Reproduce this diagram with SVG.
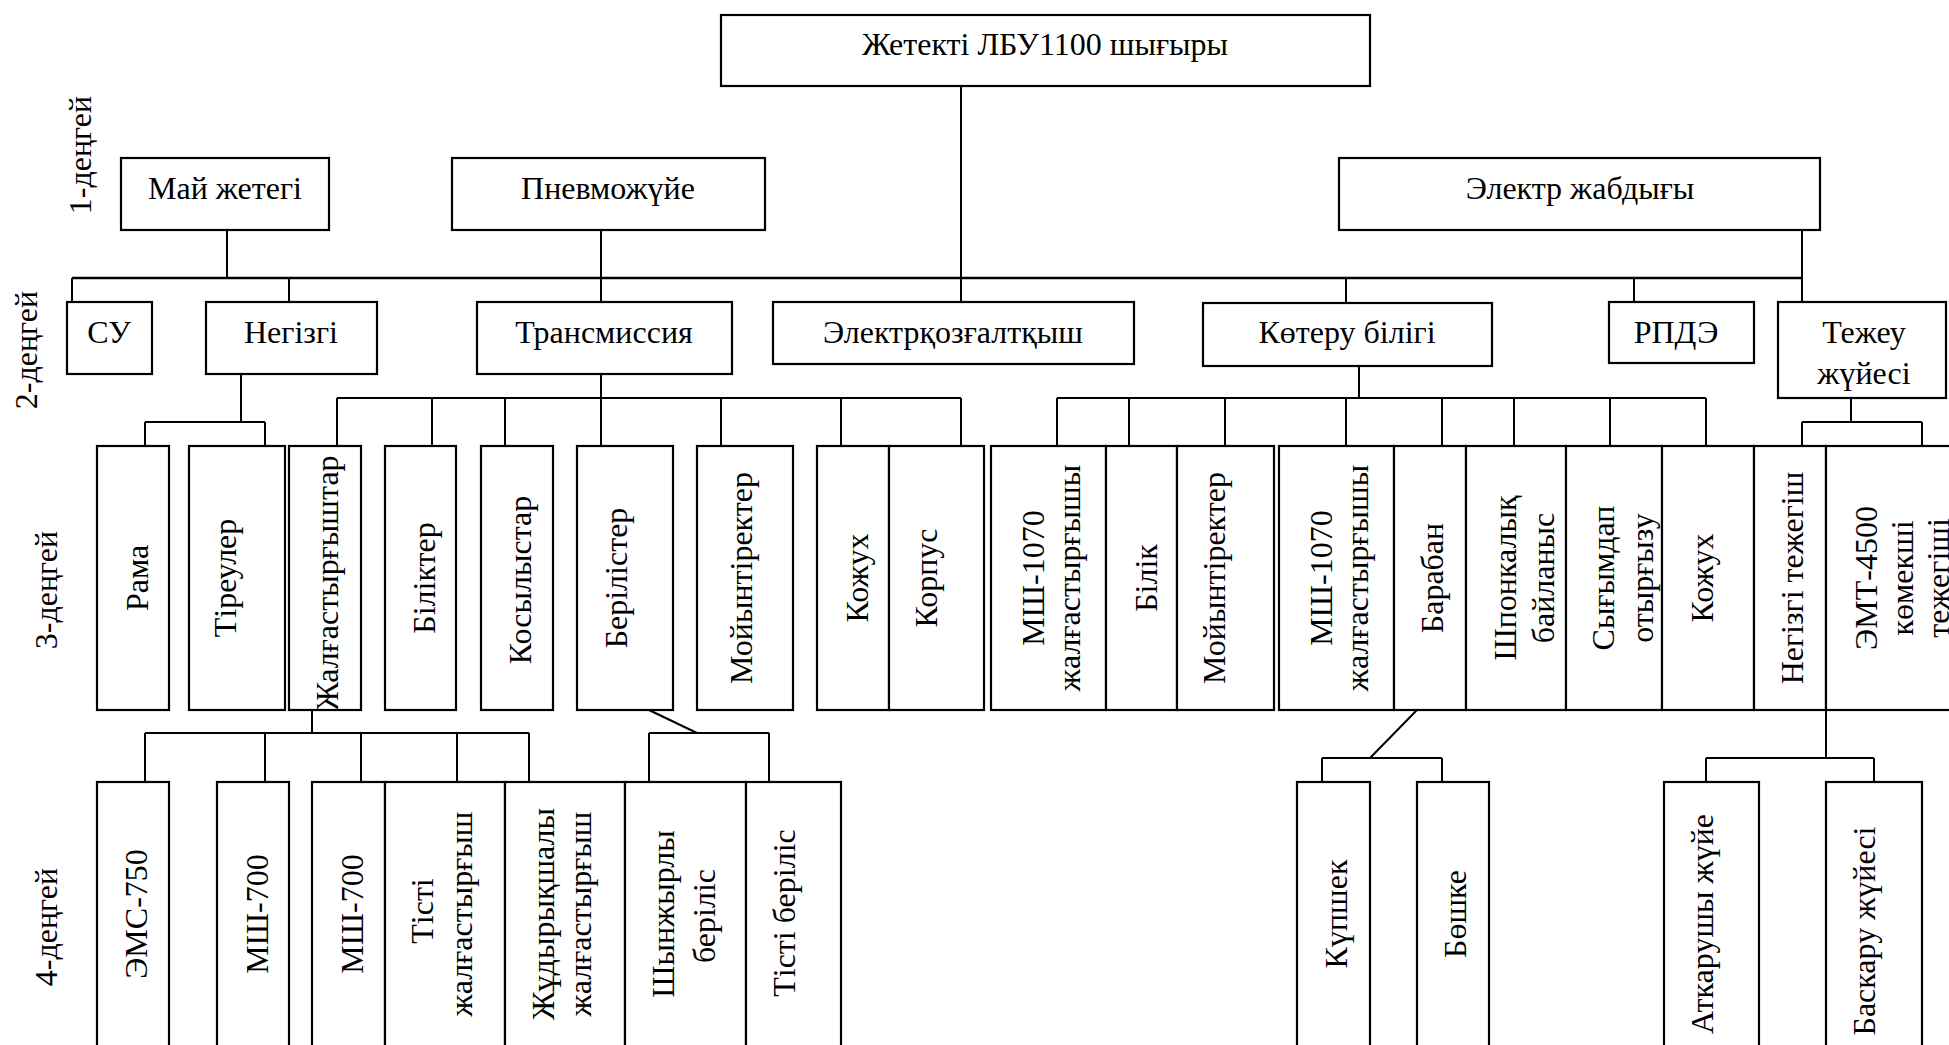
<svg xmlns="http://www.w3.org/2000/svg" width="1949" height="1045" viewBox="0 0 1949 1045">
  <style>
    .box{fill:#fff;stroke:#000;stroke-width:2.2}
    .ln{fill:none;stroke:#000;stroke-width:2}
    .bus{fill:none;stroke:#000;stroke-width:2.6}
    text{font-family:"Liberation Serif","Times New Roman",serif;font-size:32px;fill:#000;text-anchor:middle}
  </style>
  <rect width="1949" height="1045" fill="#fff"/>

  <!-- connectors -->
  <g id="connectors">
    <!-- root to level 1/2 bus -->
    <path class="ln" d="M961 86V302"/>
    <path class="bus" d="M72 278H1802"/>
    <path class="ln" d="M227 230V278M601 230V302M1802 230V302"/>
    <path class="ln" d="M72 278V302M289 278V302M1346 278V303M1634 278V302"/>
    <!-- Негізгі -->
    <path class="ln" d="M241 374V422M145 422H265M145 422V446M265 422V446"/>
    <!-- Трансмиссия -->
    <path class="ln" d="M601 374V398M337 398H961M337 398V446M432 398V446M505 398V446M601 398V446M721 398V446M841 398V446M961 398V446"/>
    <!-- Көтеру білігі -->
    <path class="ln" d="M1359 366V398M1057 398H1706M1057 398V446M1129 398V446M1225 398V446M1346 398V446M1442 398V446M1514 398V446M1610 398V446M1706 398V446"/>
    <!-- Тежеу жүйесі -->
    <path class="ln" d="M1851 398V422M1802 422H1922M1802 422V446M1922 422V446"/>
    <!-- Жалғастырғыштар -->
    <path class="ln" d="M312 710V733M145 733H529M145 733V782M265 733V782M361 733V782M457 733V782M529 733V782"/>
    <!-- Берілістер -->
    <path class="ln" d="M649 710L697 733M649 733H769M649 733V782M769 733V782"/>
    <!-- Барабан -->
    <path class="ln" d="M1417 710L1370 758M1322 758H1442M1322 758V782M1442 758V782"/>
    <!-- тежегіштер -->
    <path class="ln" d="M1826 710V758M1706 758H1874M1706 758V782M1874 758V782"/>
  </g>

  <!-- level captions -->
  <g id="levels">
    <text transform="translate(91,155) rotate(-90)">1-деңгей</text>
    <text transform="translate(37,350) rotate(-90)">2-деңгей</text>
    <text transform="translate(57,590) rotate(-90)">3-деңгей</text>
    <text transform="translate(57,927) rotate(-90)">4-деңгей</text>
  </g>

  <!-- root -->
  <g id="root"><rect class="box" x="721" y="15" width="649" height="71"/><text x="1045" y="55">Жетекті ЛБУ1100 шығыры</text></g>

  <!-- level 1 -->
  <g id="mai-zhetegi"><rect class="box" x="121" y="158" width="208" height="72"/><text x="225" y="199">Май жетегі</text></g>
  <g id="pnevmo"><rect class="box" x="452" y="158" width="313" height="72"/><text x="608" y="199">Пневможүйе</text></g>
  <g id="elektr"><rect class="box" x="1339" y="158" width="481" height="72"/><text x="1580" y="199">Электр жабдығы</text></g>

  <!-- level 2 -->
  <g id="su"><rect class="box" x="67" y="302" width="85" height="72"/><text x="109" y="343">СУ</text></g>
  <g id="negizgi"><rect class="box" x="206" y="302" width="171" height="72"/><text x="291" y="343">Негізгі</text></g>
  <g id="transmissiya"><rect class="box" x="477" y="302" width="255" height="72"/><text x="604" y="343">Трансмиссия</text></g>
  <g id="elektrkozg"><rect class="box" x="773" y="302" width="361" height="62"/><text x="953" y="343">Электрқозғалтқыш</text></g>
  <g id="koteru"><rect class="box" x="1203" y="303" width="289" height="63"/><text x="1347" y="343">Көтеру білігі</text></g>
  <g id="rpde"><rect class="box" x="1609" y="302" width="145" height="61"/><text x="1676" y="343">РПДЭ</text></g>
  <g id="tezheu"><rect class="box" x="1778" y="302" width="168" height="96"/><text x="1864" y="343">Тежеу</text><text x="1864" y="384">жүйесі</text></g>

  <!-- level 3 -->
  <g id="rama"><rect class="box" x="97" y="446" width="72" height="264"/><text transform="translate(148,578) rotate(-90)">Рама</text></g>
  <g id="tireuler"><rect class="box" x="189" y="446" width="96" height="264"/><text transform="translate(236,578) rotate(-90)">Тіреулер</text></g>
  <g id="zhalgastyrgyshtar"><rect class="box" x="289" y="446" width="72" height="264"/><text transform="translate(338,583) rotate(-90)">Жалғастырғыштар</text></g>
  <g id="bilikter"><rect class="box" x="385" y="446" width="71" height="264"/><text transform="translate(435,578) rotate(-90)">Біліктер</text></g>
  <g id="kosylystar"><rect class="box" x="481" y="446" width="72" height="264"/><text transform="translate(531,580) rotate(-90)">Косылыстар</text></g>
  <g id="berilister"><rect class="box" x="577" y="446" width="96" height="264"/><text transform="translate(627,578) rotate(-90)">Берілістер</text></g>
  <g id="moiyntirekter-1"><rect class="box" x="697" y="446" width="96" height="264"/><text transform="translate(752,578) rotate(-90)">Мойынтіректер</text></g>
  <g id="kozhukh-1"><rect class="box" x="817" y="446" width="72" height="264"/><text transform="translate(868,578) rotate(-90)">Кожух</text></g>
  <g id="korpus"><rect class="box" x="889" y="446" width="95" height="264"/><text transform="translate(937,578) rotate(-90)">Корпус</text></g>
  <g id="msh1070-1"><rect class="box" x="991" y="446" width="115" height="264"/><text transform="translate(1044,578) rotate(-90)">МШ-1070</text><text transform="translate(1080,578) rotate(-90)">жалғастырғышы</text></g>
  <g id="bilik"><rect class="box" x="1106" y="446" width="71" height="264"/><text transform="translate(1157,578) rotate(-90)">Білік</text></g>
  <g id="moiyntirekter-2"><rect class="box" x="1177" y="446" width="97" height="264"/><text transform="translate(1225,578) rotate(-90)">Мойынтіректер</text></g>
  <g id="msh1070-2"><rect class="box" x="1279" y="446" width="115" height="264"/><text transform="translate(1332,578) rotate(-90)">МШ-1070</text><text transform="translate(1368,578) rotate(-90)">жалғастырғышы</text></g>
  <g id="baraban"><rect class="box" x="1394" y="446" width="72" height="264"/><text transform="translate(1443,578) rotate(-90)">Барабан</text></g>
  <g id="shponka"><rect class="box" x="1466" y="446" width="100" height="264"/><text transform="translate(1516,578) rotate(-90)">Шпонкалық</text><text transform="translate(1554,578) rotate(-90)">байланыс</text></g>
  <g id="sygymdap"><rect class="box" x="1566" y="446" width="96" height="264"/><text transform="translate(1614,578) rotate(-90)">Сығымдап</text><text transform="translate(1653,578) rotate(-90)">отырғызу</text></g>
  <g id="kozhukh-2"><rect class="box" x="1662" y="446" width="92" height="264"/><text transform="translate(1713,578) rotate(-90)">Кожух</text></g>
  <g id="negizgi-tezhegish"><rect class="box" x="1754" y="446" width="72" height="264"/><text transform="translate(1803,578) rotate(-90)">Негізгі тежегіш</text></g>
  <g id="emt4500"><rect class="box" x="1826" y="446" width="140" height="264"/><text transform="translate(1877,578) rotate(-90)">ЭМТ-4500</text><text transform="translate(1913,578) rotate(-90)">көмекші</text><text transform="translate(1949,578) rotate(-90)">тежегіші</text></g>

  <!-- level 4 -->
  <g id="ems750"><rect class="box" x="97" y="782" width="72" height="275"/><text transform="translate(147,914) rotate(-90)">ЭМС-750</text></g>
  <g id="msh700-1"><rect class="box" x="217" y="782" width="72" height="275"/><text transform="translate(268,914) rotate(-90)">МШ-700</text></g>
  <g id="msh700-2"><rect class="box" x="312" y="782" width="73" height="275"/><text transform="translate(363,914) rotate(-90)">МШ-700</text></g>
  <g id="tisti-zhalg"><rect class="box" x="385" y="782" width="120" height="275"/><text transform="translate(433,911) rotate(-90)">Тісті</text><text transform="translate(472,914) rotate(-90)">жалғастырғыш</text></g>
  <g id="zhudyryk"><rect class="box" x="505" y="782" width="120" height="275"/><text transform="translate(554,914) rotate(-90)">Жұдырықшалы</text><text transform="translate(591,914) rotate(-90)">жалғастырғыш</text></g>
  <g id="shynzhyr"><rect class="box" x="625" y="782" width="121" height="275"/><text transform="translate(674,914) rotate(-90)">Шынжырлы</text><text transform="translate(715,916) rotate(-90)">беріліс</text></g>
  <g id="tisti-berilis"><rect class="box" x="746" y="782" width="95" height="275"/><text transform="translate(795,913) rotate(-90)">Тісті беріліс</text></g>
  <g id="kupshek"><rect class="box" x="1297" y="782" width="73" height="275"/><text transform="translate(1347,914) rotate(-90)">Күпшек</text></g>
  <g id="boshke"><rect class="box" x="1417" y="782" width="72" height="275"/><text transform="translate(1466,914) rotate(-90)">Бөшке</text></g>
  <g id="atkarushy"><rect class="box" x="1664" y="782" width="95" height="275"/><text transform="translate(1713,924) rotate(-90)">Аткарушы жүйе</text></g>
  <g id="baskaru"><rect class="box" x="1826" y="782" width="96" height="275"/><text transform="translate(1875,931) rotate(-90)">Баскару жүйесі</text></g>
</svg>
